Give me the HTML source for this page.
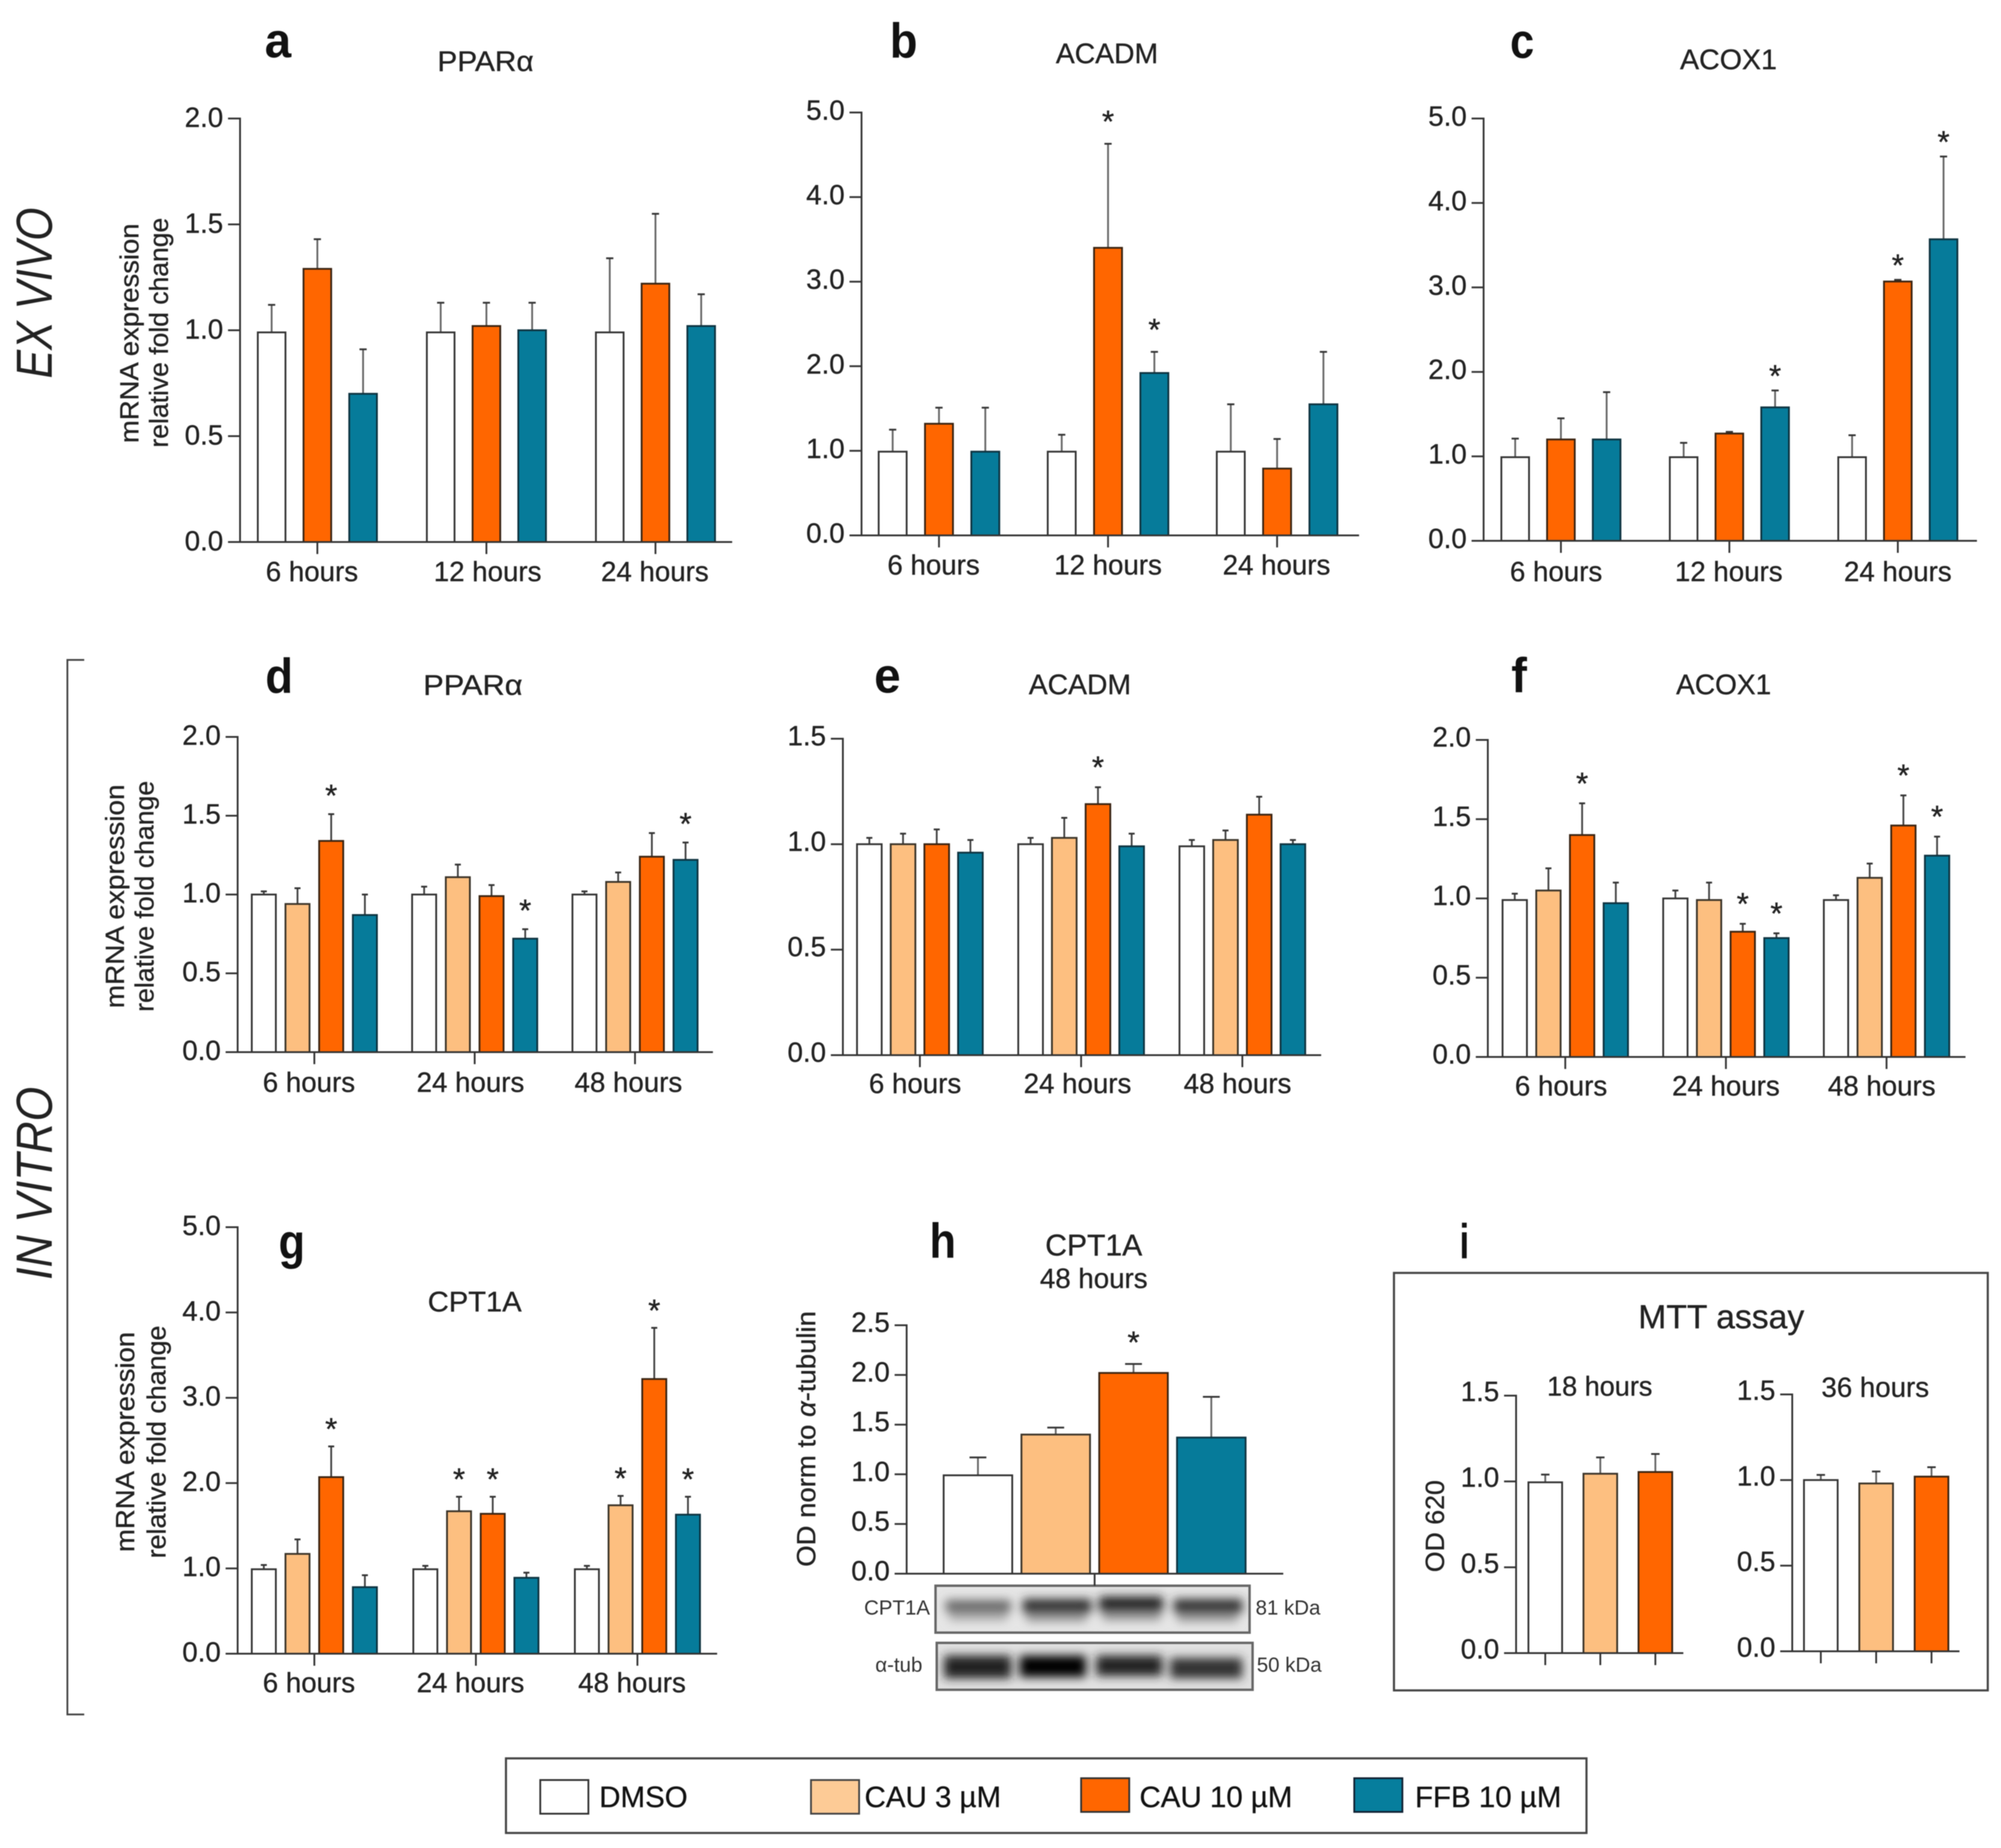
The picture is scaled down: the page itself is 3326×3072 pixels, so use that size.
<!DOCTYPE html>
<html lang="en">
<head>
<meta charset="utf-8">
<title>mRNA expression panels</title>
<style>
html,body{margin:0;padding:0;background:#fff;}
svg{display:block;filter:blur(0.9px);}
text{font-family:"Liberation Sans",sans-serif;fill:#222;stroke:#222;stroke-width:0.5px;}
.letter{font-weight:bold;font-size:82px;fill:#111;stroke:none;text-anchor:middle;}
.title{font-size:47px;text-anchor:middle;}
.ytitle{font-size:44px;text-anchor:middle;}
.side{font-size:84px;font-style:italic;text-anchor:middle;stroke:none;}
.legend-text{font-size:49px;fill:#111;}
.blot-label{font-size:34px;fill:#333;stroke:none;}
</style>
</head>
<body>
<svg id="figure" xmlns="http://www.w3.org/2000/svg" width="3326" height="3072" viewBox="0 0 3326 3072">
<defs>
  <filter id="blur" x="-20%" y="-80%" width="140%" height="260%"><feGaussianBlur stdDeviation="8"/></filter>
  <clipPath id="clip1"><rect x="1555" y="2636" width="522" height="78"/></clipPath>
  <clipPath id="clip2"><rect x="1557" y="2731" width="525" height="78"/></clipPath>
</defs>
<rect x="0" y="0" width="3326" height="3072" fill="#fff"/>

<text class="side" transform="translate(86,487) rotate(-90)" textLength="284" lengthAdjust="spacingAndGlyphs">EX VIVO</text>
<text class="side" transform="translate(86,1967) rotate(-90)" textLength="321" lengthAdjust="spacingAndGlyphs">IN VITRO</text>
<path d="M140 1097 H112 V2850 H140" fill="none" stroke="#444" stroke-width="3"/>

<text class="letter" x="462" y="95" textLength="44" lengthAdjust="spacingAndGlyphs">a</text>
<text class="letter" x="1502" y="96" textLength="46" lengthAdjust="spacingAndGlyphs">b</text>
<text class="letter" x="2530" y="96" textLength="40" lengthAdjust="spacingAndGlyphs">c</text>
<text class="letter" x="464" y="1152" textLength="46" lengthAdjust="spacingAndGlyphs">d</text>
<text class="letter" x="1475" y="1151" textLength="44" lengthAdjust="spacingAndGlyphs">e</text>
<text class="letter" x="2525" y="1151" textLength="26" lengthAdjust="spacingAndGlyphs">f</text>
<text class="letter" x="485" y="2092" textLength="44" lengthAdjust="spacingAndGlyphs">g</text>
<text class="letter" x="1567" y="2091" textLength="44" lengthAdjust="spacingAndGlyphs">h</text>
<text class="letter" x="2434" y="2092" textLength="16" lengthAdjust="spacingAndGlyphs">i</text>

<text class="title" x="807" y="118" textLength="160" lengthAdjust="spacingAndGlyphs">PPARα</text>
<text class="title" x="1840" y="105" textLength="170" lengthAdjust="spacingAndGlyphs">ACADM</text>
<text class="title" x="2873" y="115" textLength="161" lengthAdjust="spacingAndGlyphs">ACOX1</text>
<text class="title" x="786" y="1155" textLength="165" lengthAdjust="spacingAndGlyphs">PPARα</text>
<text class="title" x="1795" y="1154" textLength="170" lengthAdjust="spacingAndGlyphs">ACADM</text>
<text class="title" x="2865" y="1154" textLength="158" lengthAdjust="spacingAndGlyphs">ACOX1</text>
<text class="title" x="789" y="2180" textLength="156" lengthAdjust="spacingAndGlyphs">CPT1A</text>
<text class="title" x="1818" y="2087" style="font-size:50px">CPT1A</text>
<text class="title" x="1818" y="2141" style="font-size:46px">48 hours</text>

<text class="ytitle" transform="translate(230,554) rotate(-90)" textLength="365" lengthAdjust="spacingAndGlyphs">mRNA expression</text>
<text class="ytitle" transform="translate(279,553) rotate(-90)" textLength="382" lengthAdjust="spacingAndGlyphs">relative fold change</text>
<text class="ytitle" transform="translate(206,1490) rotate(-90)" textLength="372" lengthAdjust="spacingAndGlyphs">mRNA expression</text>
<text class="ytitle" transform="translate(255,1490) rotate(-90)" textLength="384" lengthAdjust="spacingAndGlyphs">relative fold change</text>
<text class="ytitle" transform="translate(223,2397) rotate(-90)" textLength="366" lengthAdjust="spacingAndGlyphs">mRNA expression</text>
<text class="ytitle" transform="translate(275,2397) rotate(-90)" textLength="387" lengthAdjust="spacingAndGlyphs">relative fold change</text>
<text class="ytitle" transform="translate(1355,2392) rotate(-90)" textLength="425" lengthAdjust="spacingAndGlyphs">OD norm to <tspan font-style="italic">α</tspan>-tubulin</text>
<text class="ytitle" transform="translate(2400,2537) rotate(-90)" textLength="153" lengthAdjust="spacingAndGlyphs">OD 620</text>

<g>
  <rect x="1555" y="2636" width="522" height="78" fill="#e6e6e6"/>
  <g clip-path="url(#clip1)" filter="url(#blur)">
    <rect x="1572" y="2660" width="108" height="20" fill="#666"/>
    <rect x="1578" y="2680" width="96" height="14" fill="#aaa"/>
    <rect x="1700" y="2658" width="114" height="24" fill="#2e2e2e"/>
    <rect x="1706" y="2682" width="100" height="14" fill="#999"/>
    <rect x="1827" y="2654" width="106" height="26" fill="#222"/>
    <rect x="1833" y="2680" width="96" height="14" fill="#999"/>
    <rect x="1951" y="2658" width="114" height="24" fill="#333"/>
    <rect x="1957" y="2682" width="100" height="14" fill="#999"/>
  </g>
  <rect x="1555" y="2636" width="522" height="78" fill="none" stroke="#666" stroke-width="4"/>
</g>
<g>
  <rect x="1557" y="2731" width="525" height="78" fill="#e2e2e2"/>
  <g clip-path="url(#clip2)" filter="url(#blur)">
    <rect x="1569" y="2752" width="112" height="38" fill="#222"/>
    <rect x="1695" y="2752" width="110" height="36" fill="#000"/>
    <rect x="1822" y="2752" width="110" height="34" fill="#222"/>
    <rect x="1945" y="2756" width="120" height="34" fill="#333"/>
  </g>
  <rect x="1557" y="2731" width="525" height="78" fill="none" stroke="#666" stroke-width="4"/>
</g>
<text class="blot-label" x="1491" y="2684" text-anchor="middle">CPT1A</text>
<text class="blot-label" x="2087" y="2684">81 kDa</text>
<text class="blot-label" x="1494" y="2779" text-anchor="middle">α-tub</text>
<text class="blot-label" x="2089" y="2779">50 kDa</text>

<rect x="2317" y="2116" width="987" height="694" fill="none" stroke="#444" stroke-width="3.5"/>
<text class="title" x="2861" y="2208" style="font-size:56px">MTT assay</text>
<text class="title" x="2659" y="2320" style="font-size:45px">18 hours</text>
<text class="title" x="3117" y="2322" style="font-size:46px">36 hours</text>

<g>
  <rect x="841" y="2923" width="1796" height="124" fill="#fff" stroke="#444" stroke-width="3.5"/>
  <rect x="898" y="2959" width="80" height="56" fill="#fff" stroke="#333" stroke-width="3"/>
  <text class="legend-text" x="996" y="3004">DMSO</text>
  <rect x="1348" y="2959" width="80" height="56" fill="#FDCB96" stroke="#444" stroke-width="3"/>
  <text class="legend-text" x="1437" y="3004">CAU 3 µM</text>
  <rect x="1797" y="2956" width="80" height="56" fill="#FF6600" stroke="#333" stroke-width="3"/>
  <text class="legend-text" x="1894" y="3004">CAU 10 µM</text>
  <rect x="2251" y="2956" width="80" height="56" fill="#067E9D" stroke="#123" stroke-width="3"/>
  <text class="legend-text" x="2352" y="3004">FFB 10 µM</text>
</g>
</svg>

<script>
// ---------- Shared tick labels and categories ----------
const ticks2 = [0, 0.5, 1, 1.5, 2];
const ticks5 = [0, 1, 2, 3, 4, 5];
const ticks15 = [0, 0.5, 1, 1.5];
const ticks25 = [0, 0.5, 1, 1.5, 2, 2.5];
const catsExVivo = ['6 hours', '12 hours', '24 hours'];
const catsInVitro = ['6 hours', '24 hours', '48 hours'];
const catsBlot = [''];

// ---------- Panel a ----------
const aDMSO = [0.99, 0.99, 0.99];
const aCAU10 = [1.29, 1.02, 1.22];
const aFFB = [0.7, 1.0, 1.02];
const aDMSOTop = [1.12, 1.13, 1.34];
const aCAU10Top = [1.43, 1.13, 1.55];
const aFFBTop = [0.91, 1.13, 1.17];
const aStars = [];

// ---------- Panel b ----------
const bDMSO = [0.99, 0.99, 0.99];
const bCAU10 = [1.32, 3.4, 0.79];
const bFFB = [0.99, 1.92, 1.55];
const bDMSOTop = [1.25, 1.19, 1.55];
const bCAU10Top = [1.51, 4.63, 1.14];
const bFFBTop = [1.51, 2.17, 2.17];
const bStars = [[1, 1], [1, 2]];

// ---------- Panel c ----------
const cDMSO = [0.99, 0.99, 0.99];
const cCAU10 = [1.2, 1.27, 3.07];
const cFFB = [1.2, 1.58, 3.57];
const cDMSOTop = [1.21, 1.16, 1.25];
const cCAU10Top = [1.45, 1.29, 3.09];
const cFFBTop = [1.76, 1.78, 4.55];
const cStars = [[1, 2], [2, 1], [2, 2]];

// ---------- Panel d ----------
const dDMSO = [1.0, 1.0, 1.0];
const dCAU3 = [0.94, 1.11, 1.08];
const dCAU10 = [1.34, 0.99, 1.24];
const dFFB = [0.87, 0.72, 1.22];
const dDMSOTop = [1.02, 1.05, 1.02];
const dCAU3Top = [1.04, 1.19, 1.14];
const dCAU10Top = [1.51, 1.06, 1.39];
const dFFBTop = [1.0, 0.78, 1.33];
const dStars = [[0, 2], [1, 3], [2, 3]];

// ---------- Panel e ----------
const eDMSO = [1.0, 1.0, 0.99];
const eCAU3 = [1.0, 1.03, 1.02];
const eCAU10 = [1.0, 1.19, 1.14];
const eFFB = [0.96, 0.99, 1.0];
const eDMSOTop = [1.03, 1.03, 1.02];
const eCAU3Top = [1.05, 1.125, 1.065];
const eCAU10Top = [1.07, 1.27, 1.225];
const eFFBTop = [1.02, 1.05, 1.02];
const eStars = [[1, 2]];

// ---------- Panel f ----------
const fDMSO = [0.99, 1.0, 0.99];
const fCAU3 = [1.05, 0.99, 1.13];
const fCAU10 = [1.4, 0.79, 1.46];
const fFFB = [0.97, 0.75, 1.27];
const fDMSOTop = [1.03, 1.05, 1.02];
const fCAU3Top = [1.19, 1.1, 1.22];
const fCAU10Top = [1.6, 0.84, 1.65];
const fFFBTop = [1.1, 0.78, 1.39];
const fStars = [[0, 2], [1, 2], [1, 3], [2, 2], [2, 3]];

// ---------- Panel g ----------
const gDMSO = [0.99, 0.99, 0.99];
const gCAU3 = [1.17, 1.67, 1.74];
const gCAU10 = [2.07, 1.64, 3.22];
const gFFB = [0.78, 0.89, 1.63];
const gDMSOTop = [1.04, 1.03, 1.03];
const gCAU3Top = [1.34, 1.84, 1.85];
const gCAU10Top = [2.43, 1.84, 3.82];
const gFFBTop = [0.92, 0.95, 1.84];
const gStars = [[0, 2], [1, 1], [1, 2], [2, 1], [2, 2], [2, 3]];

// ---------- Panel h ----------
const hDMSO = [0.99];
const hCAU3 = [1.4];
const hCAU10 = [2.02];
const hFFB = [1.37];
const hDMSOTop = [1.17];
const hCAU3Top = [1.47];
const hCAU10Top = [2.11];
const hFFBTop = [1.78];
const hStars = [[0, 2]];

// ---------- Panel i ----------
const i18DMSO = [0.995];
const i18CAU3 = [1.045];
const i18CAU10 = [1.055];
const i18DMSOTop = [1.04];
const i18CAU3Top = [1.14];
const i18CAU10Top = [1.16];
const i36DMSO = [1.0];
const i36CAU3 = [0.98];
const i36CAU10 = [1.02];
const i36DMSOTop = [1.03];
const i36CAU3Top = [1.05];
const i36CAU10Top = [1.075];

const COLORS = {DMSO: '#ffffff', CAU3: '#FDBF80', CAU10: '#FF6600', FFB: '#067B9A'};
const STROKES = {DMSO: '#333333', CAU3: '#3a3328', CAU10: '#3a2412', FFB: '#0e3340'};
const svg = document.getElementById('figure');
const NS = 'http://www.w3.org/2000/svg';

function mk(tag, attrs, parent) {
  const el = document.createElementNS(NS, tag);
  for (const k in attrs) el.setAttribute(k, attrs[k]);
  parent.appendChild(el);
  return el;
}

function drawPanel(p) {
  const g = mk('g', {}, svg);
  
  
  const ymax = p.ticks[p.ticks.length - 1];
  const yScale = v => p.y0 - (v / ymax) * (p.y0 - p.yTop);
  const n = p.series.length;
  const barX = (c, s) => p.first + c * (p.groupPitch || 0) + s * p.pitch;
  const groupW = (n - 1) * p.pitch + p.barW;

  // error bars and bars
  p.categories.forEach((cat, c) => {
    p.series.forEach((s, si) => {
      const x = barX(c, si);
      const cx = x + p.barW / 2;
      const yv = yScale(s.values[c]);
      const yt = yScale(s.tops[c]);
      const err = mk('line', {x1: cx, x2: cx, y1: yv, y2: yt, stroke: p.errColor || '#666', 'stroke-width': 3}, g);
      
      
      const cap = mk('line', {x1: cx - p.capHalf, x2: cx + p.capHalf, y1: yt, y2: yt, stroke: '#333', 'stroke-width': 3}, g);
      
      
      const bar = mk('rect', {x: x + 1.5, y: yv, width: p.barW - 3, height: p.y0 - yv, fill: COLORS[s.key], stroke: STROKES[s.key], 'stroke-width': 3}, g);
      
      
    });
  });

  // y axis
  const yAxis = mk('line', {x1: p.x0, x2: p.x0, y1: p.yTop - 1.5, y2: p.y0 + 1.5, stroke: '#333', 'stroke-width': 3}, g);
  
  
  const xAxis = mk('line', {x1: p.x0 - 20, x2: p.xEnd, y1: p.y0, y2: p.y0, stroke: '#333', 'stroke-width': 3}, g);
  
  

  p.ticks.forEach(t => {
    const y = yScale(t);
    const tick = mk('line', {x1: p.x0 - 20, x2: p.x0, y1: y, y2: y, stroke: '#333', 'stroke-width': 3}, g);
    
    
    const lab = mk('text', {x: p.x0 - 28, y: y + p.labelShift, 'text-anchor': 'end', 'font-size': 46}, g);
    lab.textContent = t.toFixed(1);
    
    
  });

  // x ticks
  if (p.tickEachBar) {
    p.series.forEach((s, si) => {
      const cx = barX(0, si) + p.barW / 2;
      const tick = mk('line', {x1: cx, x2: cx, y1: p.y0, y2: p.y0 + 20, stroke: '#333', 'stroke-width': 3}, g);
      
      
    });
  } else {
    p.categories.forEach((cat, c) => {
      const cx = barX(c, 0) + groupW / 2;
      const tick = mk('line', {x1: cx, x2: cx, y1: p.y0, y2: p.y0 + 20, stroke: '#333', 'stroke-width': 3}, g);
      
      
      if (cat) {
        const lab = mk('text', {x: cx + (p.labelDx ? p.labelDx[c] : 0), y: p.labelY, 'text-anchor': 'middle', 'font-size': 46}, g);
        lab.textContent = cat;
        
        
      }
    });
  }

  // significance stars
  (p.stars || []).forEach(st => {
    const s = p.series[st[1]];
    const cx = barX(st[0], st[1]) + p.barW / 2;
    const star = mk('text', {x: cx, y: yScale(s.tops[st[0]]) - (p.starGap || 9), 'text-anchor': 'middle', 'font-size': 52, fill: '#333'}, g);
    star.textContent = '*';
    
    
  });
}

drawPanel({id: 'a', x0: 399, yTop: 197, y0: 901, xEnd: 1217, ticks: ticks2, categories: catsExVivo, labelShift: 14,
  first: 427, pitch: 76, groupPitch: 281, barW: 49, capHalf: 6, labelY: 966, labelDx: [-9, 2, -1], stars: aStars,
  series: [{key: 'DMSO', values: aDMSO, tops: aDMSOTop}, {key: 'CAU10', values: aCAU10, tops: aCAU10Top}, {key: 'FFB', values: aFFB, tops: aFFBTop}]});

drawPanel({id: 'b', x0: 1432, yTop: 187, y0: 890, xEnd: 2259, ticks: ticks5, categories: catsExVivo, labelShift: 12,
  first: 1459, pitch: 77, groupPitch: 281, barW: 49.5, capHalf: 6, labelY: 955, labelDx: [-9, 0, -1], stars: bStars, starGap: 19,
  series: [{key: 'DMSO', values: bDMSO, tops: bDMSOTop}, {key: 'CAU10', values: bCAU10, tops: bCAU10Top}, {key: 'FFB', values: bFFB, tops: bFFBTop}]});

drawPanel({id: 'c', x0: 2466, yTop: 197, y0: 899, xEnd: 3286, ticks: ticks5, categories: catsExVivo, labelShift: 12,
  first: 2494, pitch: 76, groupPitch: 280, barW: 49, capHalf: 6, labelY: 966, labelDx: [-8, -1, 0], stars: cStars, starGap: 6,
  series: [{key: 'DMSO', values: cDMSO, tops: cDMSOTop}, {key: 'CAU10', values: cCAU10, tops: cCAU10Top}, {key: 'FFB', values: cFFB, tops: cFFBTop}]});

drawPanel({id: 'd', x0: 395, yTop: 1225, y0: 1749, xEnd: 1185, ticks: ticks2, categories: catsInVitro, labelShift: 13,
  first: 417, pitch: 56, groupPitch: 266.5, barW: 43, capHalf: 5, labelY: 1815, labelDx: [-9, -7, -11], stars: dStars, starGap: 13, errColor: '#444',
  series: [{key: 'DMSO', values: dDMSO, tops: dDMSOTop}, {key: 'CAU3', values: dCAU3, tops: dCAU3Top}, {key: 'CAU10', values: dCAU10, tops: dCAU10Top}, {key: 'FFB', values: dFFB, tops: dFFBTop}]});

drawPanel({id: 'e', x0: 1401, yTop: 1228, y0: 1754, xEnd: 2196, ticks: ticks15, categories: catsInVitro, labelShift: 11,
  first: 1423, pitch: 56, groupPitch: 268, barW: 44, capHalf: 5, labelY: 1817, labelDx: [-8, -6, -8], stars: eStars, starGap: 15, errColor: '#444',
  series: [{key: 'DMSO', values: eDMSO, tops: eDMSOTop}, {key: 'CAU3', values: eCAU3, tops: eCAU3Top}, {key: 'CAU10', values: eCAU10, tops: eCAU10Top}, {key: 'FFB', values: eFFB, tops: eFFBTop}]});

drawPanel({id: 'f', x0: 2473, yTop: 1230, y0: 1757, xEnd: 3267, ticks: ticks2, categories: catsInVitro, labelShift: 11,
  first: 2496, pitch: 56, groupPitch: 267, barW: 43.5, capHalf: 5, labelY: 1821, labelDx: [-7, 0, -8], stars: fStars, starGap: 15, errColor: '#444',
  series: [{key: 'DMSO', values: fDMSO, tops: fDMSOTop}, {key: 'CAU3', values: fCAU3, tops: fCAU3Top}, {key: 'CAU10', values: fCAU10, tops: fCAU10Top}, {key: 'FFB', values: fFFB, tops: fFFBTop}]});

drawPanel({id: 'g', x0: 395, yTop: 2040, y0: 2749, xEnd: 1192, ticks: ticks5, categories: catsInVitro, labelShift: 13,
  first: 417, pitch: 56, groupPitch: 268.5, barW: 43, capHalf: 5, labelY: 2813, labelDx: [-9, -9, -9], stars: gStars, starGap: 11, errColor: '#444',
  series: [{key: 'DMSO', values: gDMSO, tops: gDMSOTop}, {key: 'CAU3', values: gCAU3, tops: gCAU3Top}, {key: 'CAU10', values: gCAU10, tops: gCAU10Top}, {key: 'FFB', values: gFFB, tops: gFFBTop}]});

drawPanel({id: 'h', x0: 1507, yTop: 2203, y0: 2616, xEnd: 2133, ticks: ticks25, categories: catsBlot, labelShift: 11,
  first: 1567, pitch: 129.3, barW: 117, capHalf: 14, stars: hStars, starGap: 18,
  series: [{key: 'DMSO', values: hDMSO, tops: hDMSOTop}, {key: 'CAU3', values: hCAU3, tops: hCAU3Top}, {key: 'CAU10', values: hCAU10, tops: hCAU10Top}, {key: 'FFB', values: hFFB, tops: hFFBTop}]});

drawPanel({id: 'i-18h', x0: 2520, yTop: 2320, y0: 2748, xEnd: 2798, ticks: ticks15, categories: catsBlot, tickEachBar: true, labelShift: 9,
  first: 2539, pitch: 91.5, barW: 59, capHalf: 7,
  series: [{key: 'DMSO', values: i18DMSO, tops: i18DMSOTop}, {key: 'CAU3', values: i18CAU3, tops: i18CAU3Top}, {key: 'CAU10', values: i18CAU10, tops: i18CAU10Top}]});

drawPanel({id: 'i-36h', x0: 2979, yTop: 2318, y0: 2745, xEnd: 3257, ticks: ticks15, categories: catsBlot, tickEachBar: true, labelShift: 9,
  first: 2997, pitch: 92, barW: 59, capHalf: 7,
  series: [{key: 'DMSO', values: i36DMSO, tops: i36DMSOTop}, {key: 'CAU3', values: i36CAU3, tops: i36CAU3Top}, {key: 'CAU10', values: i36CAU10, tops: i36CAU10Top}]});
</script>
</body>
</html>
